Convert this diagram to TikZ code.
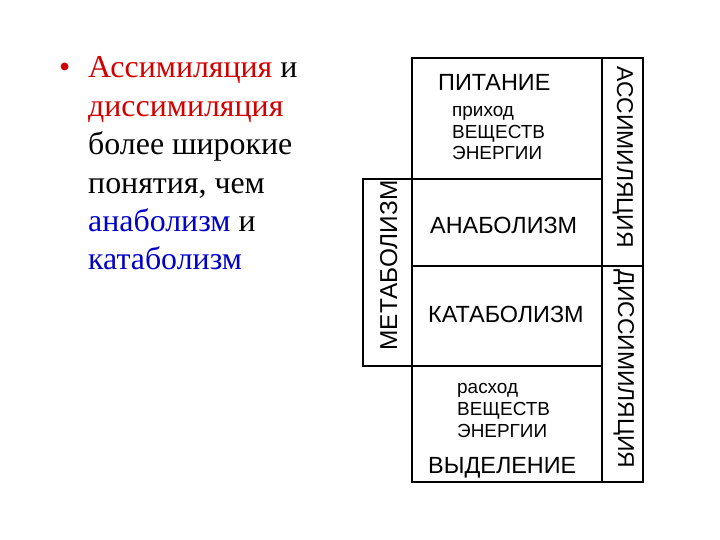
\documentclass[tikz,border=0pt]{standalone}
\usepackage{fontspec}
\setmainfont{Liberation Serif}
\newfontfamily\arialfont{Liberation Sans}
\usepackage{xcolor}
\definecolor{SlideRed}{RGB}{210,0,0}
\definecolor{SlideBlue}{RGB}{0,0,200}

\begin{document}
\begin{tikzpicture}[x=1bp, y=-1bp,
		BoxLine/.style={line width=1.6bp},
		BigLabel/.style={font=\arialfont\fontsize{23.5}{26}\selectfont, anchor=base west, inner sep=0pt},
		SmallLabel/.style={font=\arialfont\fontsize{19}{22}\selectfont, anchor=base west, inner sep=0pt, align=left},
		SideLabel/.style={font=\arialfont\fontsize{23}{26}\selectfont, anchor=base, inner sep=0pt},
		SlideText/.style={font=\fontsize{32}{38.6}\selectfont, anchor=base west, inner sep=0pt, align=left}]
		\useasboundingbox (0,0) rectangle (720,540);
		% frame of the table
		\draw[BoxLine] (412,58) rectangle (643,482);
		\draw[BoxLine] (602,58) -- (602,482);
		\draw[BoxLine] (412,179) -- (602,179);
		\draw[BoxLine] (412,266) -- (643,266);
		\draw[BoxLine] (363,179) rectangle (412,366);
		\draw[BoxLine] (412,366) -- (602,366);
		% cells (multi-line nodes sit on their last line)
		\node[BigLabel] (pitanie) at (438,91) {ПИТАНИЕ};
		\node[SmallLabel] (prihod) at (452,160) {приход\\ВЕЩЕСТВ\\ЭНЕРГИИ};
		\node[BigLabel] (anabolizm) at (430,234) {АНАБОЛИЗМ};
		\node[BigLabel] (katabolizm) at (428,322) {КАТАБОЛИЗМ};
		\node[SmallLabel] (rashod) at (457,437) {расход\\ВЕЩЕСТВ\\ЭНЕРГИИ};
		\node[BigLabel] (vydelenie) at (428,473) {ВЫДЕЛЕНИЕ};
		% side columns
		\node[SideLabel, rotate=90, font=\arialfont\fontsize{24.5}{26}\selectfont] (metabolizm) at (397,265.5) {МЕТАБОЛИЗМ};
		\node[SideLabel, rotate=-90] (assimil) at (617,157) {АССИМИЛЯЦИЯ};
		\node[SideLabel, rotate=-90] (dissimil) at (618,369) {ДИССИМИЛЯЦИЯ};
		% slide text
		\node[SlideText, text=SlideRed] (bullet) at (59,78) {•};
		\node[SlideText] (slidetext) at (88,270) {\textcolor{SlideRed}{Ассимиляция} и\\
			\textcolor{SlideRed}{диссимиляция}\\
			более широкие\\
			понятия, чем\\
			\textcolor{SlideBlue}{анаболизм} и\\
			\textcolor{SlideBlue}{катаболизм}};
	\end{tikzpicture}
\end{document}
